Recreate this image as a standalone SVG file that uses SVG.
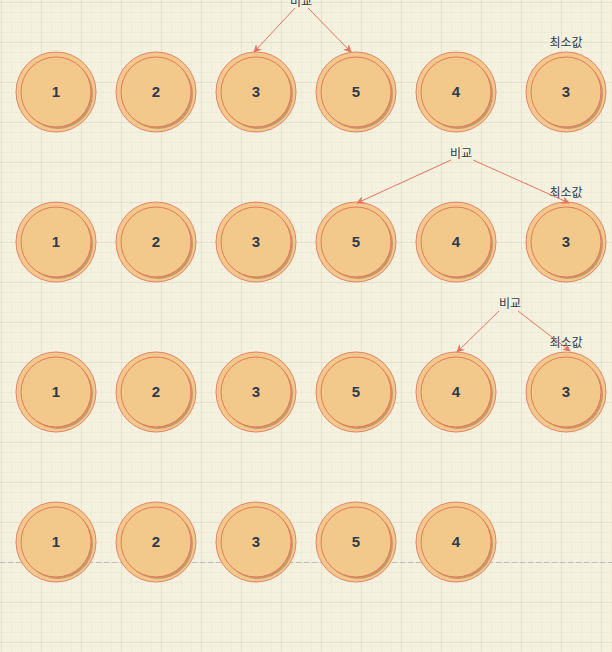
<svg xmlns="http://www.w3.org/2000/svg" width="612" height="652" viewBox="0 0 612 652">
<defs>
<pattern id="minor" x="1" y="2" width="10" height="10" patternUnits="userSpaceOnUse"><path d="M0 0V10M0 0H10" fill="none" stroke="#E9E5D0" stroke-width="1"/></pattern>
<pattern id="major" x="1" y="2" width="40" height="40" patternUnits="userSpaceOnUse"><path d="M0 0V40M0 0H40" fill="none" stroke="#DAD6C0" stroke-width="1"/></pattern>
<marker id="ah" viewBox="0 0 10 10" refX="9" refY="5" markerWidth="8" markerHeight="8" orient="auto" markerUnits="userSpaceOnUse"><path d="M0 0L10 5L0 10L3 5Z" fill="#E5735F"/></marker>
<g id="node">
<circle r="40" fill="#F2C98A" stroke="#E8806B" stroke-width="1"/>
<circle cx="2" cy="2" r="35" fill="#C49A68"/>
<circle r="35" fill="#F2C98A" stroke="#E5785F" stroke-width="1"/>
</g>
</defs>
<style>
.num{font-family:"Liberation Sans",Arial,sans-serif;font-size:15px;font-weight:bold;fill:#2D3B4F;text-anchor:middle}
.lbl{font-family:"Noto Sans CJK KR","Noto Sans",sans-serif;font-size:12px;fill:#2D3B4F;text-anchor:middle}
.conn line{stroke:#E5735F;stroke-width:1;marker-end:url(#ah)}
</style>
<rect width="612" height="652" fill="#F4F1DE"/>
<rect width="612" height="652" fill="url(#minor)"/>
<rect width="612" height="652" fill="url(#major)"/>
<line x1="0" y1="562.5" x2="612" y2="562.5" stroke="#B8B8B8" stroke-width="1" stroke-dasharray="5 3"/>

<g id="row1">
<g id="n1-1" transform="translate(56,92)"><use href="#node"/><text class="num" y="5">1</text></g>
<g id="n1-2" transform="translate(156,92)"><use href="#node"/><text class="num" y="5">2</text></g>
<g id="n1-3" transform="translate(256,92)"><use href="#node"/><text class="num" y="5">3</text></g>
<g id="n1-4" transform="translate(356,92)"><use href="#node"/><text class="num" y="5">5</text></g>
<g id="n1-5" transform="translate(456,92)"><use href="#node"/><text class="num" y="5">4</text></g>
<g id="n1-6" transform="translate(566,92)"><use href="#node"/><text class="num" y="5">3</text></g>
</g>
<g id="row2">
<g id="n2-1" transform="translate(56,242)"><use href="#node"/><text class="num" y="5">1</text></g>
<g id="n2-2" transform="translate(156,242)"><use href="#node"/><text class="num" y="5">2</text></g>
<g id="n2-3" transform="translate(256,242)"><use href="#node"/><text class="num" y="5">3</text></g>
<g id="n2-4" transform="translate(356,242)"><use href="#node"/><text class="num" y="5">5</text></g>
<g id="n2-5" transform="translate(456,242)"><use href="#node"/><text class="num" y="5">4</text></g>
<g id="n2-6" transform="translate(566,242)"><use href="#node"/><text class="num" y="5">3</text></g>
</g>
<g id="row3">
<g id="n3-1" transform="translate(56,392)"><use href="#node"/><text class="num" y="5">1</text></g>
<g id="n3-2" transform="translate(156,392)"><use href="#node"/><text class="num" y="5">2</text></g>
<g id="n3-3" transform="translate(256,392)"><use href="#node"/><text class="num" y="5">3</text></g>
<g id="n3-4" transform="translate(356,392)"><use href="#node"/><text class="num" y="5">5</text></g>
<g id="n3-5" transform="translate(456,392)"><use href="#node"/><text class="num" y="5">4</text></g>
<g id="n3-6" transform="translate(566,392)"><use href="#node"/><text class="num" y="5">3</text></g>
</g>
<g id="row4">
<g id="n4-1" transform="translate(56,542)"><use href="#node"/><text class="num" y="5">1</text></g>
<g id="n4-2" transform="translate(156,542)"><use href="#node"/><text class="num" y="5">2</text></g>
<g id="n4-3" transform="translate(256,542)"><use href="#node"/><text class="num" y="5">3</text></g>
<g id="n4-4" transform="translate(356,542)"><use href="#node"/><text class="num" y="5">5</text></g>
<g id="n4-5" transform="translate(456,542)"><use href="#node"/><text class="num" y="5">4</text></g>
</g>

<g id="labels">
<text class="lbl" x="301" y="6">비교</text>
<text class="lbl" x="461" y="158">비교</text>
<text class="lbl" x="510" y="308">비교</text>
<text class="lbl" x="566" y="47">최소값</text>
<text class="lbl" x="566" y="197">최소값</text>
<text class="lbl" x="566" y="347">최소값</text>
</g>

<g id="connectors" class="conn">
<line x1="295" y1="8" x2="254" y2="52"/>
<line x1="308" y1="8" x2="351" y2="52"/>
<line x1="451" y1="160" x2="357" y2="203"/>
<line x1="473" y1="160" x2="569" y2="203"/>
<line x1="499" y1="311" x2="457" y2="352"/>
<line x1="518" y1="311" x2="570" y2="351"/>
</g>
</svg>
